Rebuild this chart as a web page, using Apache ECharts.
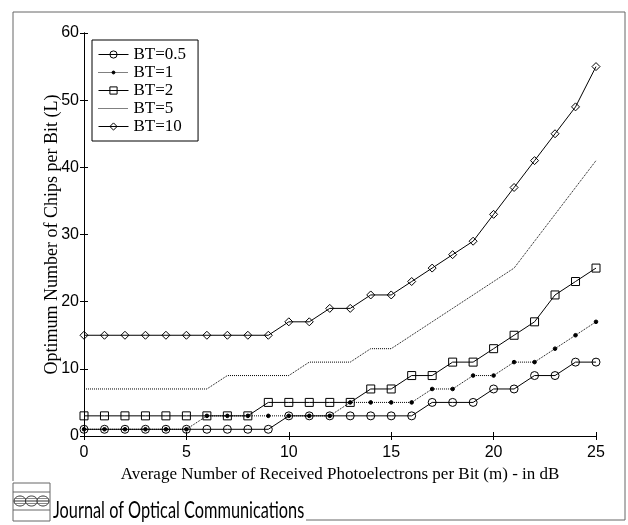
<!DOCTYPE html>
<html>
<head>
<meta charset="utf-8">
<script src="https://cdn.jsdelivr.net/npm/echarts@6/dist/echarts.min.js"></script>
<style>html,body{margin:0;padding:0;background:#fff;}#c{width:628px;height:525px;}</style>
</head>
<body>
<div id="c"></div>
<script>
const xValues = [0,1,2,3,4,5,6,7,8,9,10,11,12,13,14,15,16,17,18,19,20,21,22,23,24,25];
const bt05 = [1,1,1,1,1,1,1,1,1,1,3,3,3,3,3,3,3,5,5,5,7,7,9,9,11,11];
const bt1  = [1,1,1,1,1,1,3,3,3,3,3,3,3,5,5,5,5,7,7,9,9,11,11,13,15,17];
const bt2  = [3,3,3,3,3,3,3,3,3,5,5,5,5,5,7,7,9,9,11,11,13,15,17,21,23,25];
const bt5  = [7,7,7,7,7,7,7,9,9,9,9,11,11,11,13,13,15,17,19,21,23,25,29,33,37,41];
const bt10 = [15,15,15,15,15,15,15,15,15,15,17,17,19,19,21,21,23,25,27,29,33,37,41,45,49,55];
const seriesNames = ['BT=0.5','BT=1','BT=2','BT=5','BT=10'];
const xTicks = [0,5,10,15,20,25];
const yTicks = [0,10,20,30,40,50,60];

const pairs = arr => xValues.map((x,i)=>[x,arr[i]]);
const chart = echarts.init(document.getElementById('c'));
const lineBlack = {color:'#000', width:1};
const sansF = '"Liberation Sans", Arial, sans-serif';
const serifF = '"Liberation Serif", "Times New Roman", serif';

const mkSeries = (name, data, symbol, size, fill, ltype) => ({
  name, type:'line', data: pairs(data), symbol, symbolSize: size,
  showSymbol: symbol !== 'none',
  lineStyle:{color:'#000', width:1, type: ltype},
  itemStyle:{color: fill, borderColor:'#000', borderWidth:1},
  emphasis:{disabled:true}, animation:false, z: 3
});

// small filled dot inside a larger extent (the moveTo corners keep the scale)
const smallDot = 'path://M0,0 M10,10 M7,5 A2,2 0 1 1 3,5 A2,2 0 1 1 7,5 Z';

chart.setOption({
  backgroundColor:'#fff',
  animation:false,
  grid:{left:84, right:32, top:33, bottom:89, show:false},
  legend:{
    orient:'vertical', left:92, top:40,
    data: [
      {name:'BT=0.5'},
      {name:'BT=1'},
      {name:'BT=2'},
      {name:'BT=5', itemStyle:{opacity:0}},
      {name:'BT=10'}
    ],
    lineStyle:{width:1},
    itemStyle:{borderWidth:1},
    backgroundColor:'#fff', borderColor:'#000', borderWidth:1,
    padding:[6,12,6,6], itemGap:1, itemWidth:30, itemHeight:9,
    textStyle:{fontFamily:serifF, fontSize:17, color:'#000', lineHeight:17},
    selectedMode:false
  },
  xAxis:[
    {type:'value', min:0, max:25, interval:5, position:'bottom',
     axisLine:{lineStyle:lineBlack}, axisTick:{inside:true, length:4, lineStyle:lineBlack},
     axisLabel:{fontFamily:sansF, fontSize:16, color:'#000', margin:9},
     splitLine:{show:false},
     name:'Average Number of Received Photoelectrons per Bit (m) - in dB',
     nameLocation:'middle', nameGap:30, nameMoveOverlap:false,
     nameTextStyle:{fontFamily:serifF, fontSize:17, color:'#000'}},
    {type:'value', min:0, max:25, interval:5, position:'top',
     axisLine:{lineStyle:lineBlack}, axisTick:{inside:true, length:4, lineStyle:lineBlack},
     axisLabel:{show:false}, splitLine:{show:false}}
  ],
  yAxis:[
    {type:'value', min:0, max:60, interval:10, position:'left',
     axisLine:{show:true, lineStyle:lineBlack}, axisTick:{show:true, inside:true, length:4, lineStyle:lineBlack},
     axisLabel:{fontFamily:sansF, fontSize:16, color:'#000', margin:5},
     splitLine:{show:false},
     name:'Optimum Number of Chips per Bit (L)',
     nameLocation:'middle', nameGap:23, nameMoveOverlap:false,
     nameTextStyle:{fontFamily:serifF, fontSize:18, color:'#000'}},
    {type:'value', min:0, max:60, interval:10, position:'right',
     axisLine:{show:true, lineStyle:lineBlack}, axisTick:{show:true, inside:true, length:4, lineStyle:lineBlack},
     axisLabel:{show:false}, splitLine:{show:false}}
  ],
  series:[
    mkSeries(seriesNames[0], bt05, 'circle', 8, 'rgba(255,255,255,0)', 'solid'),
    mkSeries(seriesNames[1], bt1, smallDot, 9, '#000', 'dotted'),
    mkSeries(seriesNames[2], bt2, 'rect', 8, 'rgba(255,255,255,0)', 'solid'),
    mkSeries(seriesNames[3], bt5, 'none', 0, '#000', 'dotted'),
    mkSeries(seriesNames[4], bt10, 'diamond', 8, 'rgba(255,255,255,0)', 'solid')
  ],
  graphic:[
    {type:'polyline', shape:{points:[[13,481],[13,12],[625,12],[625,520],[306,520]]}, style:{stroke:'#666', lineWidth:1, fill:null}, silent:true},
    {type:'rect', shape:{x:13, y:483, width:37, height:38}, style:{stroke:'#666', fill:'#fff', lineWidth:1}, silent:true},
    {type:'line', shape:{x1:13, y1:492, x2:50, y2:492}, style:{stroke:'#666', lineWidth:1}, silent:true},
    {type:'line', shape:{x1:13, y1:510, x2:50, y2:510}, style:{stroke:'#666', lineWidth:1}, silent:true},
    {type:'ellipse', shape:{cx:20, cy:501, rx:6, ry:5}, style:{stroke:'#333', fill:'#fff', lineWidth:1}, silent:true},
    {type:'ellipse', shape:{cx:31.5, cy:501, rx:6, ry:5}, style:{stroke:'#333', fill:'#fff', lineWidth:1}, silent:true},
    {type:'ellipse', shape:{cx:43, cy:501, rx:6, ry:5}, style:{stroke:'#333', fill:'#fff', lineWidth:1}, silent:true},
    {type:'line', shape:{x1:14, y1:501, x2:49, y2:501}, style:{stroke:'#333', lineWidth:1}, silent:true},
    {type:'line', shape:{x1:15, y1:498.5, x2:48, y2:498.5}, style:{stroke:'#555', lineWidth:0.7}, silent:true},
    {type:'line', shape:{x1:15, y1:503.5, x2:48, y2:503.5}, style:{stroke:'#555', lineWidth:0.7}, silent:true},
    {type:'text', x:53, y:522, scaleX:0.68, style:{text:'Journal of Optical Communications', font:'24px Lato, "Noto Sans", sans-serif', fill:'#000', verticalAlign:'bottom'}, silent:true}
  ]
});
</script>
</body>
</html>
